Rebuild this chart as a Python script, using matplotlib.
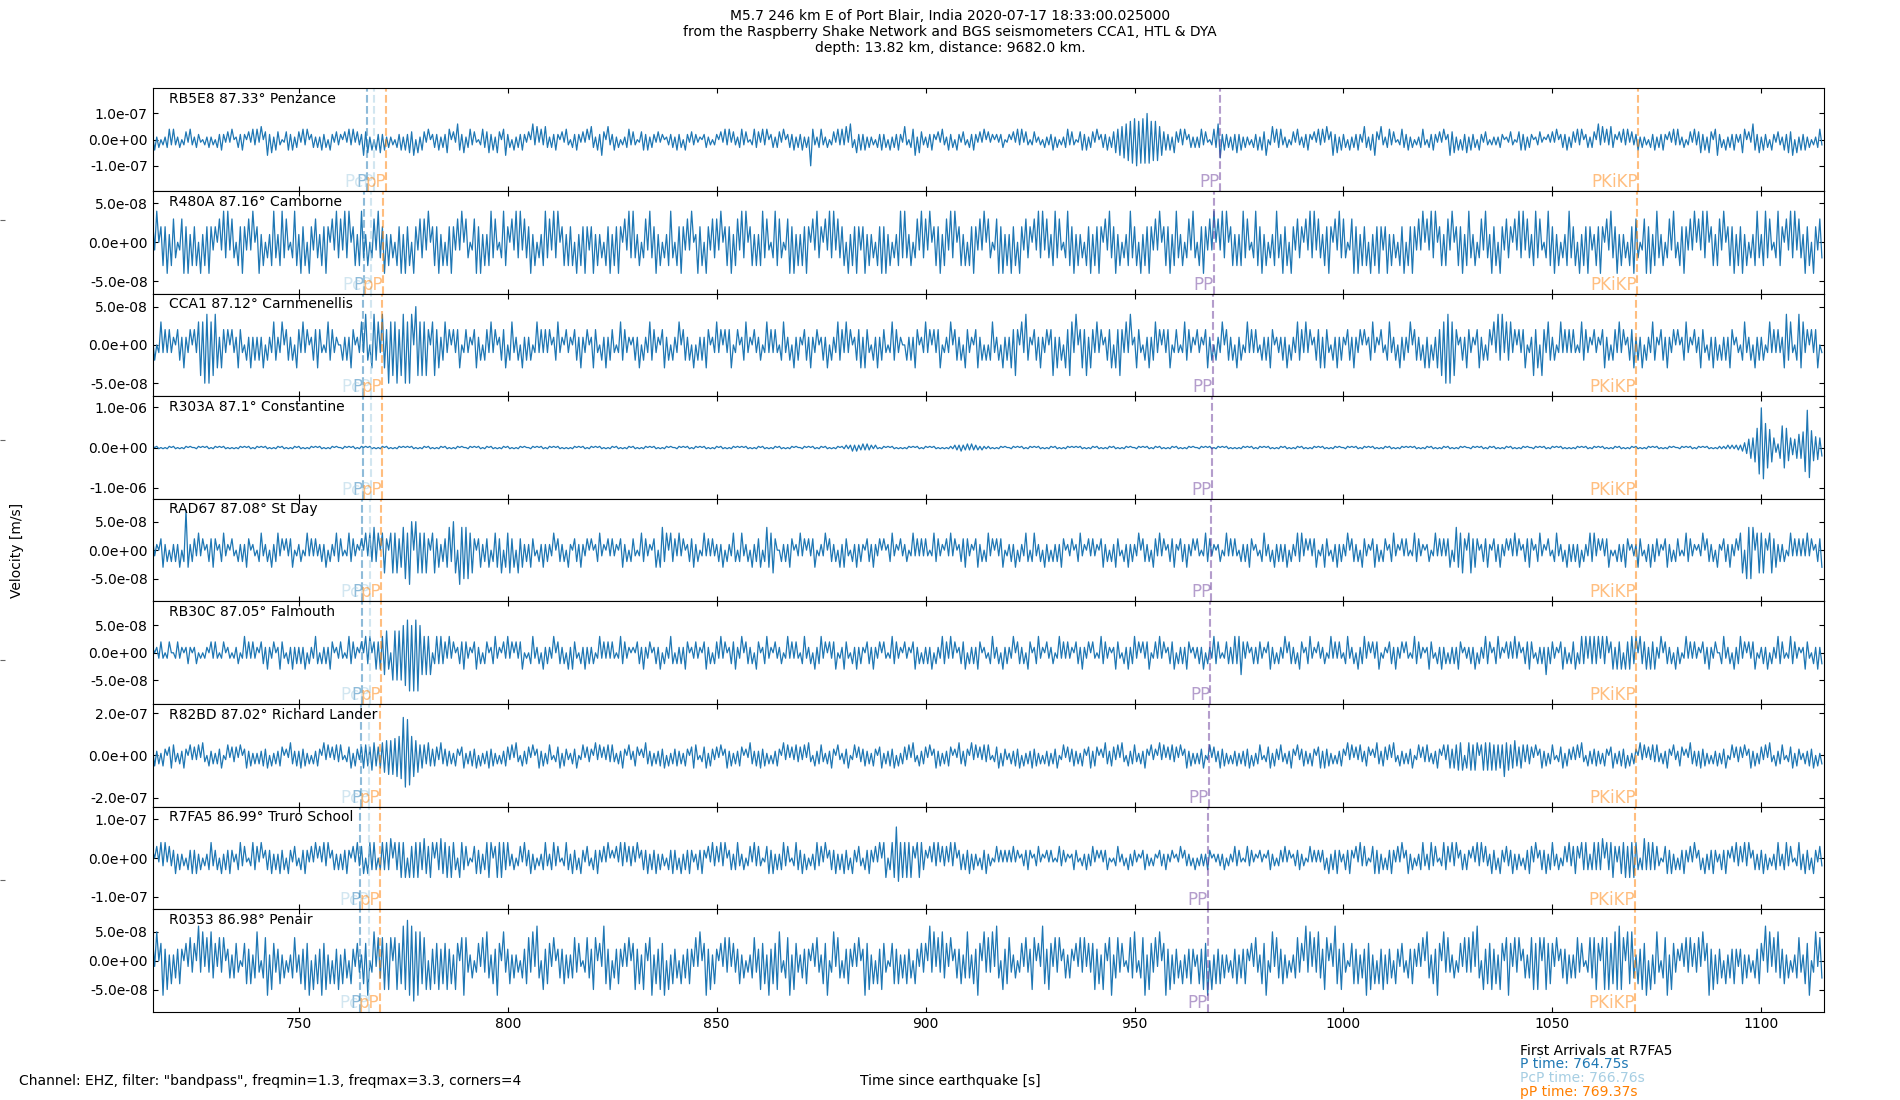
import numpy as np
import matplotlib
matplotlib.use('Agg')
import matplotlib.pyplot as plt
from matplotlib.ticker import FormatStrFormatter

plt.rcParams['xtick.direction'] = 'in'
plt.rcParams['ytick.direction'] = 'in'

# ---------------- data ----------------
stations = ['RB5E8', 'R480A', 'CCA1', 'R303A', 'RAD67', 'RB30C', 'R82BD', 'R7FA5', 'R0353']
distances = [87.33, 87.16, 87.12, 87.1, 87.08, 87.05, 87.02, 86.99, 86.98]
places = ['Penzance', 'Camborne', 'Carnmenellis', 'Constantine', 'St Day',
          'Falmouth', 'Richard Lander', 'Truro School', 'Penair']

# arrival times [s] per station
p_times = [766.31, 765.53, 765.35, 765.26, 765.16, 765.03, 764.89, 764.75, 764.70]
pcp_times = [767.98, 767.37, 767.23, 767.16, 767.08, 766.98, 766.87, 766.76, 766.72]
pp_depth_times = [770.90, 770.14, 769.96, 769.87, 769.78, 769.64, 769.51, 769.37, 769.33]
PP_times = [970.42, 969.01, 968.68, 968.51, 968.35, 968.10, 967.85, 967.60, 967.52]
pkikp_times = [1070.43, 1070.14, 1070.07, 1070.04, 1070.00, 1069.95, 1069.90, 1069.85, 1069.83]

# y axis limits and tick values [m/s]
ylims = [1.96e-7, 6.6e-8, 6.7e-8, 1.28e-6, 9.0e-8, 9.4e-8, 2.43e-7, 1.32e-7, 8.9e-8]
ytick_vals = [1e-7, 5e-8, 5e-8, 1e-6, 5e-8, 5e-8, 2e-7, 1e-7, 5e-8]

# trace samples: successive extrema every 0.5 s from 715 s, alternating sign,
# amplitude as base-36 digit times the station unit (one string per 20 s)
t_start = 715.0
dt = 0.5
units = [1e-8, 1e-8, 1e-8, 3e-8, 1e-8, 1e-8, 1e-8, 1e-8, 1e-8]

trace_RB5E8 = [
    "2413021342 4213023142 1321021312 0324213140",
    "1324203142 4150362514 3201342413 3142402313",
    "1423042132 2031424132 2635140425 2413120324",
    "1425360514 3140232413 2540316425 1342310243",
    "3524153046 2304132421 3062514253 1324203142",
    "0324213140 5314263052 2413021342 3201342413",
    "2131201223 1423042132 2110231202 2031424132",
    "1342310243 3142402313 3140232413 24131a4213",
    "4213023142 4251630524 2413120324 2304132421",
    "5203461532 1324203142 1423042132 0324213140",
    "3120212301 2031424132 0231120312 2413021342",
    "3201342413 3140232413 3546576879 8a7989a978",
    "7856342415 3142402313 1342310243 6724231425",
    "2413120324 1436025143 4213023142 1324203142",
    "4150362514 2304132421 5314263052 1342310243",
    "2413021342 0324213140 2635140425 1423042132",
    "0212132011 3201342413 2012311021 3140232413",
    "3142402313 3062514253 2031424132 2413120324",
    "1324203142 4213023142 3524153046 2304132421",
    "2540316425 1423042132 1425360514 2413021342",
]
trace_R480A = [
    "3140232413 3201342413 2304132421 2031424132",
    "0324213140 2413021342 1342310243 1423042132",
    "1324203142 3142402313 4213023142 2413120324",
    "1423042132 3140232413 0324213140 3201342413",
    "1342310243 2031424132 2413021342 3142402313",
    "2304132421 2413120324 1324203142 4213023142",
    "2413021342 0324213140 1423042132 3140232413",
    "3142402313 1342310243 3201342413 1324203142",
    "2031424132 2304132421 2413120324 2413021342",
    "4213023142 3140232413 3142402313 0324213140",
    "3201342413 1423042132 2031424132 1342310243",
    "2413120324 1324203142 2413021342 2304132421",
    "3140232413 4213023142 0324213140 3142402313",
    "1342310243 2413021342 1423042132 2031424132",
    "1324203142 3201342413 2304132421 2413120324",
    "0324213140 3142402313 3140232413 4213023142",
    "1423042132 2031424132 1342310243 2413021342",
    "2304132421 1324203142 2413120324 3201342413",
    "4213023142 0324213140 3142402313 3140232413",
    "2413021342 1342310243 2031424132 1423042132",
]
trace_CCA1 = [
    "1201312121 1022131120 2134354534 4313212021",
    "1321021312 1213021132 1130221203 2131201223",
    "2101322110 0212132011 3142034231 4325343524",
    "4535405434 3420342312 3120212301 2110231202",
    "2131201223 0231120312 1201312121 2012311021",
    "1022131120 1321021312 2101322110 1213021132",
    "2110231202 1130221203 0212132011 3120212301",
    "2012311021 1201312121 0231120312 1022131120",
    "1213021132 2131201223 1321021312 2101322110",
    "0212132011 3120212301 1130221203 2110231202",
    "0231120312 1324203142 1022131120 2413120324",
    "3140232413 2131201223 0324213140 1321021312",
    "3120212301 2101322110 2110231202 1130221203",
    "1201312121 0212132011 1213021132 2131201223",
    "1321021312 1022131120 2012311021 0231120312",
    "1130221203 1302132435 4534201213 2110231202",
    "2031424132 3120212301 1423042132 1201312121",
    "2101322110 2110231202 2131201223 1213021132",
    "1022131120 2012311021 1321021312 0212132011",
    "0231120312 1201312121 1342310243 3120212301",
]
trace_R303A = [
    "1011010110 1101011010 0110101101 1010110101",
    "0110101101 1010110101 1011010110 1101011010",
    "1101011010 0110101101 1010110101 1011010110",
    "1010110101 1011010110 1101011010 0110101101",
    "1011010110 1101011010 0110101101 1010110101",
    "0110101101 1010110101 1011010110 1101011010",
    "1101011010 0110101101 1010110101 1011010110",
    "1010110101 1011010110 1101011010 0110101101",
    "1011010110 1121232322 3232212101 1010110101",
    "0110101101 1010110101 0111222322 3232221211",
    "1101011010 0110101101 1010110101 1011010110",
    "1010110101 1011010110 1101011010 0110101101",
    "1011010110 1101011010 0110101101 1010110101",
    "0110101101 1010110101 1011010110 1101011010",
    "1101011010 0110101101 1010110101 1011010110",
    "1010110101 1011010110 1101011010 0110101101",
    "1011010110 1101011010 0110101101 1010110101",
    "0110101101 1010110101 1011010110 1101011010",
    "1101011010 0110101101 1010110101 1111212122",
    "2345798cgm xqkhfc8439 ihgb8679b9 dkvpeb9a87",
]
trace_RAD67 = [
    "2110231202 1213027312 2131201223 2012311021",
    "0212132011 0231120312 3120212301 1201312121",
    "1213021132 2101322110 2031324230 3420343423",
    "4536505434 3420342312 2342540645 4534202312",
    "2302332403 3423042312 1321021312 1130221203",
    "1022131120 2012311021 2110231202 2101322110",
    "2303423032 2131201223 1201312121 1213021132",
    "0231120312 2302433420 0212132011 3120212301",
    "1130221203 1321021312 1022131120 2012311021",
    "1201312121 2101322110 2131201223 2110231202",
    "3120212301 1213021132 0231120312 0212132011",
    "2012311021 2110231202 1321021312 1130221203",
    "2131201223 1022131120 2101322110 1201312121",
    "0212132011 0231120312 1213021132 3120212301",
    "1321021312 1130221203 2110231202 2012311021",
    "2101322110 1201312121 2302433420 3423201223",
    "1022131120 2131201223 2012311021 0231120312",
    "1213021132 3120212301 0212132011 1321021312",
    "2110231202 2101322110 1130221203 1022131120",
    "3405454034 3420342312 1201312121 2131201223",
]
trace_RB30C = [
    "1011210120 0121101210 1201011021 2101201101",
    "1201312121 1022131120 1321021312 1213021132",
    "0212132011 2101322110 2032302323 3443054545",
    "5667576754 3434023232 2131201223 2110231202",
    "2012311021 3120212301 0231120312 1130221203",
    "1321021312 1201312121 2101322110 1022131120",
    "1213021132 0212132011 2110231202 2131201223",
    "1130221203 2012311021 1201312121 0231120312",
    "3120212301 1321021312 1022131120 2101322110",
    "2110231202 1213021132 2131201223 0212132011",
    "0231120312 1130221203 2012311021 1201312121",
    "1022131120 2101322110 1321021312 3120212301",
    "2131201223 0212132011 1213021132 2101221232",
    "3421201212 2110231202 1130221203 2012311021",
    "1201312121 0231120312 3120212301 1022131120",
    "2101322110 1321021312 0212132011 1213021132",
    "2012311021 2131201223 2102121412 2110231202",
    "2302323132 3231323023 1323032332 3032231323",
    "1130221203 1201312121 1022131120 0231120312",
    "3120212301 1213021132 2101322110 1321021312",
]
trace_R82BD = [
    "3524153046 5314263052 4251630524 1436025143",
    "4150362514 1425360514 2540316425 2635140425",
    "3062514253 5203461532 4655476546 6879798a9b",
    "ifhe9a7856 5465354264 3524153046 1425360514",
    "2635140425 4251630524 4150362514 5203461532",
    "1436025143 3062514253 5314263052 2540316425",
    "1425360514 3524153046 5203461532 4150362514",
    "2540316425 2635140425 3062514253 4251630524",
    "5314263052 1436025143 3524153046 1425360514",
    "4251630524 4150362514 2540316425 3062514253",
    "5203461532 1425360514 2635140425 1436025143",
    "3524153046 2540316425 4251630524 5314263052",
    "3062514253 4150362514 1436025143 2635140425",
    "1425360514 5203461532 5314263052 3524153046",
    "2635140425 3062514253 2540316425 4251630524",
    "1436025143 5314263052 5636576706 6757605767",
    "6757565a67 5675465354 4150362514 5203461532",
    "4251630524 3524153046 1425360514 3062514253",
    "5314263052 2540316425 2635140425 1436025143",
    "4150362514 4251630524 5203461532 1425360514",
]
trace_R7FA5 = [
    "2031424132 2413120324 2413021342 2304132421",
    "1342310243 3140232413 1423042132 0324213140",
    "3142402313 1324203142 3404434303 4343504345",
    "4505354543 5435404354 4535430543 3201342413",
    "4540354543 4213023142 2413021342 1342310243",
    "1423042132 0324213140 2031424132 3140232413",
    "2413120324 2304132421 1324203142 3142402313",
    "4213023142 3201342413 1342310243 2413021342",
    "3140232413 1423042132 0324213140 4503458645",
    "4545304543 2031424132 3142402313 2413120324",
    "1201312121 2131201223 2012311021 2101322110",
    "1321021312 3120212301 0231120312 2110231202",
    "1022131120 1130221203 0212132011 1213021132",
    "2101322110 2110231202 2131201223 1201312121",
    "2304132421 1324203142 3201342413 0324213140",
    "2413021342 1342310243 3142402313 2031424132",
    "1423042132 2413120324 3140232413 4213023142",
    "3430434313 4343504345 3134453545 4303534343",
    "3201342413 0324213140 2304132421 1324203142",
    "3142402313 2413021342 1342310243 1423042132",
]
trace_R0353 = [
    "4150362514 1324203142 3062514253 3142402313",
    "3201342413 5203461532 2413021342 1425360514",
    "2635140425 1423042132 1436025143 4535404534",
    "6576675654 4505243524 3524153046 4213023142",
    "5314263052 2413120324 4251630524 3140232413",
    "1342310243 2540316425 0324213140 3524153046",
    "1425360514 2304132421 4150362514 2031424132",
    "2413021342 2534162435 5203461532 1324203142",
    "1436025143 0324213140 2635140425 3201342413",
    "1423042132 3062514253 3140232413 5314263052",
    "4251630524 4213023142 2540316425 3142402313",
    "2031424132 3524153046 1342310243 5203461532",
    "4150362514 2304132421 1425360514 2413120324",
    "1324203142 1436025143 2413021342 3062514253",
    "2540316425 3201342413 2635140425 1423042132",
    "0324213140 5314263052 4213023142 4251630524",
    "3524153046 3142402313 4535404534 3140232413",
    "1342310243 4530454534 5565405453 1425360514",
    "5203461532 2031424132 4150362514 2304132421",
    "2413120324 3062514253 2413021342 1436025143",
]
traces = [trace_RB5E8, trace_R480A, trace_CCA1, trace_R303A, trace_RAD67,
          trace_RB30C, trace_R82BD, trace_R7FA5, trace_R0353]

xlim = (715.0, 1115.0)
xticks = [750, 800, 850, 900, 950, 1000, 1050, 1100]

title = ("M5.7 246 km E of Port Blair, India 2020-07-17 18:33:00.025000\n"
         "from the Raspberry Shake Network and BGS seismometers CCA1, HTL & DYA\n"
         "depth: 13.82 km, distance: 9682.0 km.")
filter_text = 'Channel: EHZ, filter: "bandpass", freqmin=1.3, freqmax=3.3, corners=4'

phase_names = ['P', 'PcP', 'pP', 'PP', 'PKiKP']
phase_times = [p_times, pcp_times, pp_depth_times, PP_times, pkikp_times]
phase_colors = ['#1f78b4', '#a6cee3', '#ff7f00', '#6a3d9a', '#ff7f00']
first_station = 'R7FA5'
first_arrivals = [('P', 764.75, '#1f78b4'), ('PcP', 766.76, '#a6cee3'), ('pP', 769.37, '#ff7f00')]


def decode(chunks, unit):
    s = ''.join(''.join(c.split()) for c in chunks)
    amp = np.array([int(ch, 36) for ch in s], dtype=float) * unit
    sign = np.where(np.arange(len(amp)) % 2 == 0, 1.0, -1.0)
    t = t_start + dt * np.arange(len(amp))
    return t, amp * sign


# ---------------- figure ----------------
fig = plt.figure(figsize=(19, 11), dpi=100)

bg = fig.add_axes([0, 0, 1, 1], frameon=False)
bg.set_xticks([])
bg.set_yticks([0.2, 0.4, 0.6, 0.8])
bg.set_yticklabels([])
bg.tick_params(axis='y', direction='in', colors='0.4')
bg.set_xlim(0, 1)
bg.set_ylim(0, 1)

axes = fig.subplots(len(stations), 1, sharex=True, gridspec_kw=dict(hspace=0))
fig.subplots_adjust(left=0.0803, right=0.96, top=0.9197, bottom=0.08)

for i, ax in enumerate(axes):
    t, v = decode(traces[i], units[i])
    ax.plot(t, v, color='#1f77b4', lw=0.9)
    yl = ylims[i]
    ax.set_ylim(-yl, yl)
    ax.set_xlim(*xlim)
    ax.set_yticks([-ytick_vals[i], 0, ytick_vals[i]])
    ax.yaxis.set_major_formatter(FormatStrFormatter('%.1e'))
    ax.tick_params(top=True, right=True, direction='in', labelsize=10)
    for name, times, col in zip(phase_names, phase_times, phase_colors):
        ax.axvline(times[i], color=col, ls='--', lw=1.5, alpha=0.5)
        ax.text(times[i], -yl, name, color=col, alpha=0.5, fontsize=12,
                ha='right', va='bottom')
    ax.text(0.01, 0.965, f'{stations[i]} {distances[i]}° {places[i]}',
            transform=ax.transAxes, ha='left', va='top', fontsize=10)

axes[-1].set_xticks(xticks)

fig.text(0.5, 0.992, title, ha='center', va='top', fontsize=10)
fig.text(0.009, 0.5, 'Velocity [m/s]', rotation=90, ha='center', va='center', fontsize=10)
fig.text(0.5, 0.0173, 'Time since earthquake [s]', ha='center', va='center', fontsize=10)
fig.text(0.01, 0.0173, filter_text, ha='left', va='center', fontsize=10)

fig.text(0.8, 0.0449, f'First Arrivals at {first_station}', ha='left', va='center', fontsize=10)
for k, (nm, tt, col) in enumerate(first_arrivals):
    fig.text(0.8, 0.0449 - 0.0124 * (k + 1), f'{nm} time: {tt:.2f}s', color=col,
             ha='left', va='center', fontsize=10)

fig.savefig('out.png', dpi=100)
